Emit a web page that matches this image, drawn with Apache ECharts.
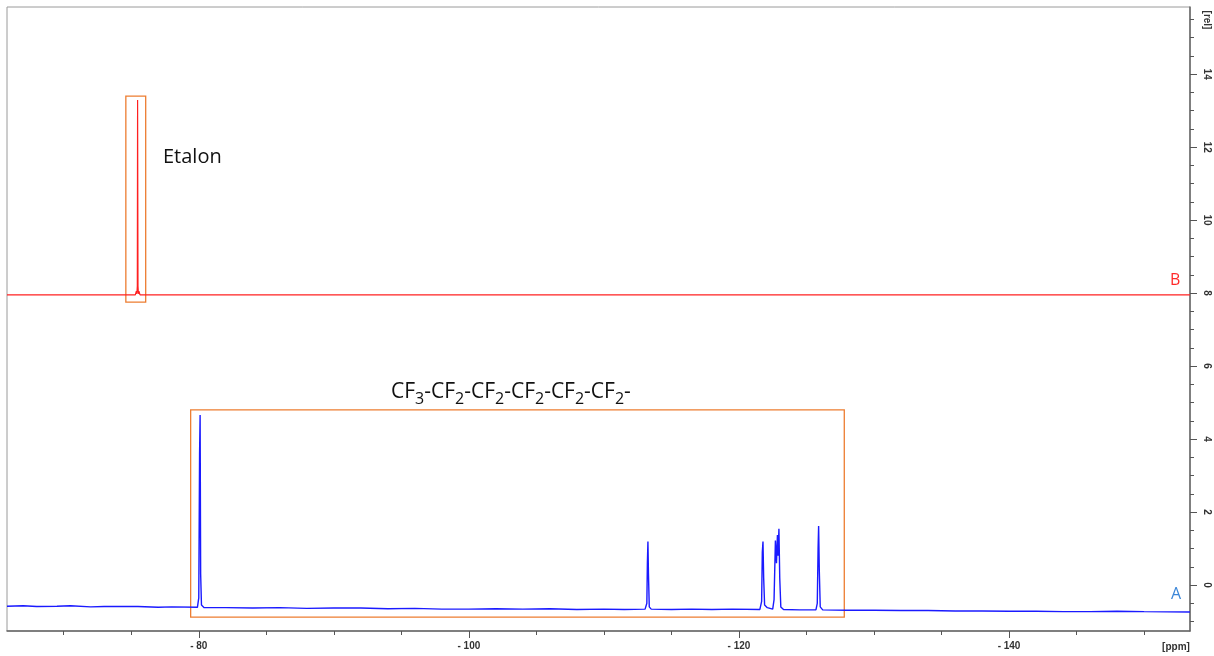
<!DOCTYPE html>
<html><head><meta charset="utf-8">
<script src="https://cdn.jsdelivr.net/npm/echarts@6/dist/echarts.min.js"></script>
<style>html,body{margin:0;padding:0;background:#fff}#c{width:1214px;height:656px}</style>
</head><body><div id="c"></div>
<script>
// ---- data ----
const ppmLabels = [-80, -100, -120, -140];
const ppmTicks = [-70, -75, -80, -85, -90, -95, -100, -105, -110, -115, -120, -125, -130, -135, -140, -145, -150];
const relLabels = [0, 2, 4, 6, 8, 10, 12, 14];
const relTicks = [-1, -0.5, 0, 0.5, 1, 1.5, 2, 2.5, 3, 3.5, 4, 4.5, 5, 5.5, 6, 6.5, 7, 7.5, 8, 8.5, 9, 9.5, 10, 10.5, 11, 11.5, 12, 12.5, 13, 13.5, 14, 14.5, 15, 15.5];

// spectrum A (blue): [ppm, intensity]
const spectrumA = [
  [-65.8, -0.58], [-67.0, -0.57], [-68.0, -0.59], [-69.5, -0.58], [-70.5, -0.57], [-72.0, -0.60], [-73.0, -0.59], [-75.5, -0.59], [-77.0, -0.61], [-78.0, -0.60], [-79.9, -0.61],
  [-80.0, -0.35], [-80.06, 3.6], [-80.1, 4.66], [-80.14, 0.3], [-80.2, -0.55], [-80.4, -0.62],
  [-82.0, -0.62], [-84.0, -0.63], [-86.0, -0.62], [-88.0, -0.64], [-90.0, -0.63], [-92.0, -0.63], [-94.0, -0.65], [-96.0, -0.64], [-98.0, -0.66], [-100.0, -0.66], [-102.0, -0.65], [-104.0, -0.66], [-106.0, -0.65], [-108.0, -0.67], [-110.0, -0.66], [-111.5, -0.67],
  [-113.05, -0.66], [-113.18, -0.5], [-113.22, 0.6], [-113.26, 1.19], [-113.3, 0.3], [-113.36, -0.6], [-113.5, -0.66],
  [-115.0, -0.67], [-116.5, -0.66], [-118.0, -0.67], [-119.5, -0.66], [-121.55, -0.67],
  [-121.68, -0.45], [-121.73, 0.9], [-121.78, 1.19], [-121.83, 0.2], [-121.9, -0.55], [-122.1, -0.62],
  [-122.5, -0.66], [-122.6, -0.4], [-122.7, 1.22], [-122.78, 0.6], [-122.85, 1.37], [-122.9, 0.8], [-122.96, 1.54], [-123.02, 0.2], [-123.1, -0.6], [-123.3, -0.67],
  [-124.5, -0.68], [-125.7, -0.68],
  [-125.8, -0.5], [-125.86, 1.0], [-125.9, 1.62], [-125.95, 0.4], [-126.02, -0.6], [-126.2, -0.68],
  [-128.0, -0.69], [-130.0, -0.69], [-132.0, -0.70], [-134.0, -0.70], [-136.0, -0.71], [-138.0, -0.71], [-140.0, -0.72], [-142.0, -0.72], [-144.0, -0.73], [-146.0, -0.73], [-148.0, -0.72], [-150.0, -0.73], [-153.4, -0.74]
];

// spectrum B (red): [ppm, intensity]
const spectrumB = [
  [-65.8, 7.95], [-75.3, 7.95], [-75.38, 8.05], [-75.42, 7.98], [-75.45, 8.2],
  [-75.47, 13.29], [-75.5, 8.2], [-75.53, 7.98], [-75.57, 8.05], [-75.65, 7.95], [-153.4, 7.95]
];

// annotation boxes (data coordinates)
const boxCF = [[-79.4, 4.80], [-127.8, -0.88]];
const boxEtalon = [[-74.6, 13.4], [-76.07, 7.75]];

// ---- chart ----
const xMin = -153.4, xMax = -65.8, yMin = -1.26, yMax = 15.84;
const chart = echarts.init(document.getElementById('c'), null, {renderer: 'canvas'});
const lblFont = {fontFamily: 'Liberation Sans, Arial', fontWeight: 'bold', fontSize: 10, color: '#333'};
const orange = '#ED7D31';

chart.setOption({
  animation: false,
  backgroundColor: '#fff',
  grid: {left: 7, right: 24, top: 7, bottom: 25, show: true, borderColor: '#9a9a9a', borderWidth: 1},
  xAxis: [
    {type: 'value', min: xMin, max: xMax, inverse: true, position: 'bottom',
     axisLine: {show: true, onZero: false, lineStyle: {color: '#666', width: 1.5}},
     axisTick: {show: true, customValues: ppmTicks, length: 4, lineStyle: {color: '#555'}},
     axisLabel: Object.assign({customValues: ppmLabels, margin: 10, formatter: v => '- ' + Math.abs(v)}, lblFont),
     splitLine: {show: false}},
    {type: 'value', min: xMin, max: xMax, inverse: true, position: 'bottom',
     axisLine: {show: false, onZero: false},
     axisTick: {show: true, customValues: ppmLabels, length: 7, lineStyle: {color: '#555'}},
     axisLabel: {show: false}, splitLine: {show: false}}
  ],
  yAxis: [
    {type: 'value', min: yMin, max: yMax, position: 'right',
     axisLine: {show: true, onZero: false, lineStyle: {color: '#666', width: 1.5}},
     axisTick: {show: true, customValues: relTicks, length: 4, lineStyle: {color: '#555'}},
     axisLabel: Object.assign({customValues: relLabels, rotate: -90, margin: 12}, lblFont),
     splitLine: {show: false}},
    {type: 'value', min: yMin, max: yMax, position: 'right',
     axisLine: {show: false, onZero: false},
     axisTick: {show: true, customValues: relLabels, length: 7, lineStyle: {color: '#555'}},
     axisLabel: {show: false}, splitLine: {show: false}}
  ],
  series: [
    {name: 'A', type: 'line', data: spectrumA, showSymbol: false, symbol: 'none',
     lineStyle: {color: '#1a1aff', width: 1.4}, z: 3,
     markArea: {silent: true, itemStyle: {color: 'rgba(0,0,0,0)', borderColor: orange, borderWidth: 1.3},
       data: [[{coord: boxCF[0]}, {coord: boxCF[1]}]]}},
    {name: 'B', type: 'line', data: spectrumB, showSymbol: false, symbol: 'none',
     lineStyle: {color: '#ff2020', width: 1.2}, z: 3,
     markArea: {silent: true, itemStyle: {color: 'rgba(0,0,0,0)', borderColor: orange, borderWidth: 1.3},
       data: [[{coord: boxEtalon[0]}, {coord: boxEtalon[1]}]]}}
  ],
  graphic: [
    {type: 'text', left: 163, top: 147, style: {text: 'Etalon', font: '20px "Open Sans"', fill: '#111'}},
    {type: 'text', left: 391, top: 379, style: {
      text: '{a|CF}{s|3}{a|-CF}{s|2}{a|-CF}{s|2}{a|-CF}{s|2}{a|-CF}{s|2}{a|-CF}{s|2}{a|-}',
      rich: {
        a: {fontFamily: 'Open Sans', fontSize: 21, fill: '#111', lineHeight: 26, height: 26, verticalAlign: 'bottom'},
        s: {fontFamily: 'Open Sans', fontSize: 16, fill: '#111', lineHeight: 12, height: 12, verticalAlign: 'bottom'}
      }}},
    {type: 'text', left: 1171, top: 586, style: {text: 'A', font: '16px "Open Sans"', fill: '#3b86d8'}},
    {type: 'text', left: 1170, top: 272, style: {text: 'B', font: '16px "Open Sans"', fill: '#ff2a2a'}},
    {type: 'text', x: 1207, y: 20, rotation: -Math.PI / 2, style: {text: '[rel]', font: 'bold 10px "Liberation Sans"', fill: '#333', align: 'center', verticalAlign: 'middle'}},
    {type: 'text', x: 1176, y: 647, style: {text: '[ppm]', font: 'bold 10px "Liberation Sans"', fill: '#333', align: 'center', verticalAlign: 'middle'}}
  ]
});
</script>
</body></html>
